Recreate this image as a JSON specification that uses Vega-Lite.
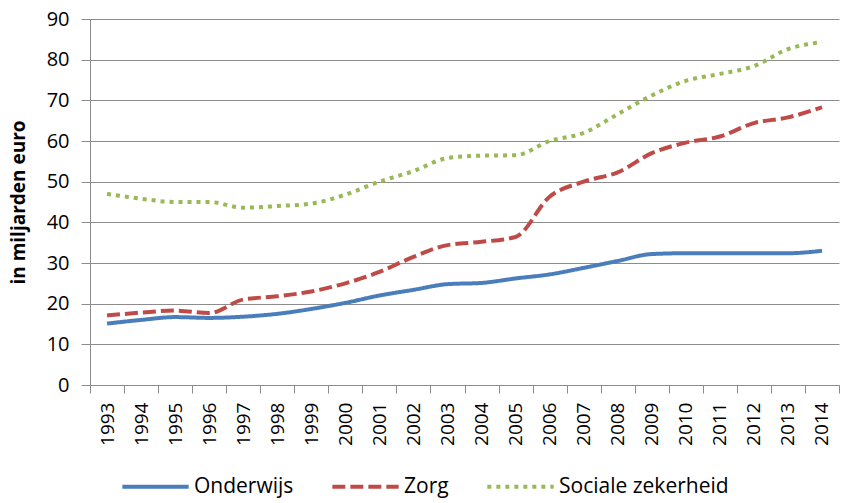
{
  "$schema": "https://vega.github.io/schema/vega-lite/v6.json",
  "autosize": {"type": "none"},
  "width": 749,
  "height": 366,
  "padding": {"left": 90, "top": 19, "right": 5, "bottom": 118},
  "background": "white",
  "config": {
    "view": {"stroke": null},
    "font": "Open Sans"
  },
  "data": {
    "values": [
      {"year": "1993", "series": "Onderwijs", "value": 15.1},
      {"year": "1994", "series": "Onderwijs", "value": 16.0},
      {"year": "1995", "series": "Onderwijs", "value": 16.7},
      {"year": "1996", "series": "Onderwijs", "value": 16.5},
      {"year": "1997", "series": "Onderwijs", "value": 16.8},
      {"year": "1998", "series": "Onderwijs", "value": 17.5},
      {"year": "1999", "series": "Onderwijs", "value": 18.7},
      {"year": "2000", "series": "Onderwijs", "value": 20.2},
      {"year": "2001", "series": "Onderwijs", "value": 22.0},
      {"year": "2002", "series": "Onderwijs", "value": 23.4},
      {"year": "2003", "series": "Onderwijs", "value": 24.8},
      {"year": "2004", "series": "Onderwijs", "value": 25.1},
      {"year": "2005", "series": "Onderwijs", "value": 26.2},
      {"year": "2006", "series": "Onderwijs", "value": 27.2},
      {"year": "2007", "series": "Onderwijs", "value": 28.8},
      {"year": "2008", "series": "Onderwijs", "value": 30.5},
      {"year": "2009", "series": "Onderwijs", "value": 32.2},
      {"year": "2010", "series": "Onderwijs", "value": 32.4},
      {"year": "2011", "series": "Onderwijs", "value": 32.4},
      {"year": "2012", "series": "Onderwijs", "value": 32.4},
      {"year": "2013", "series": "Onderwijs", "value": 32.4},
      {"year": "2014", "series": "Onderwijs", "value": 33.0},
      {"year": "1993", "series": "Zorg", "value": 17.1},
      {"year": "1994", "series": "Zorg", "value": 17.8},
      {"year": "1995", "series": "Zorg", "value": 18.3},
      {"year": "1996", "series": "Zorg", "value": 17.7},
      {"year": "1997", "series": "Zorg", "value": 21.0},
      {"year": "1998", "series": "Zorg", "value": 21.8},
      {"year": "1999", "series": "Zorg", "value": 23.0},
      {"year": "2000", "series": "Zorg", "value": 25.0},
      {"year": "2001", "series": "Zorg", "value": 27.8},
      {"year": "2002", "series": "Zorg", "value": 31.5},
      {"year": "2003", "series": "Zorg", "value": 34.4},
      {"year": "2004", "series": "Zorg", "value": 35.2},
      {"year": "2005", "series": "Zorg", "value": 36.4},
      {"year": "2006", "series": "Zorg", "value": 46.3},
      {"year": "2007", "series": "Zorg", "value": 50.0},
      {"year": "2008", "series": "Zorg", "value": 52.3},
      {"year": "2009", "series": "Zorg", "value": 57.0},
      {"year": "2010", "series": "Zorg", "value": 59.6},
      {"year": "2011", "series": "Zorg", "value": 61.1},
      {"year": "2012", "series": "Zorg", "value": 64.4},
      {"year": "2013", "series": "Zorg", "value": 65.8},
      {"year": "2014", "series": "Zorg", "value": 68.3},
      {"year": "1993", "series": "Sociale zekerheid", "value": 47.0},
      {"year": "1994", "series": "Sociale zekerheid", "value": 45.8},
      {"year": "1995", "series": "Sociale zekerheid", "value": 45.0},
      {"year": "1996", "series": "Sociale zekerheid", "value": 45.0},
      {"year": "1997", "series": "Sociale zekerheid", "value": 43.6},
      {"year": "1998", "series": "Sociale zekerheid", "value": 44.0},
      {"year": "1999", "series": "Sociale zekerheid", "value": 44.6},
      {"year": "2000", "series": "Sociale zekerheid", "value": 46.8},
      {"year": "2001", "series": "Sociale zekerheid", "value": 50.0},
      {"year": "2002", "series": "Sociale zekerheid", "value": 52.6},
      {"year": "2003", "series": "Sociale zekerheid", "value": 55.8},
      {"year": "2004", "series": "Sociale zekerheid", "value": 56.4},
      {"year": "2005", "series": "Sociale zekerheid", "value": 56.5},
      {"year": "2006", "series": "Sociale zekerheid", "value": 60.0},
      {"year": "2007", "series": "Sociale zekerheid", "value": 62.0},
      {"year": "2008", "series": "Sociale zekerheid", "value": 66.6},
      {"year": "2009", "series": "Sociale zekerheid", "value": 71.2},
      {"year": "2010", "series": "Sociale zekerheid", "value": 74.8},
      {"year": "2011", "series": "Sociale zekerheid", "value": 76.5},
      {"year": "2012", "series": "Sociale zekerheid", "value": 78.4},
      {"year": "2013", "series": "Sociale zekerheid", "value": 82.6},
      {"year": "2014", "series": "Sociale zekerheid", "value": 84.3}
    ]
  },
  "mark": {"type": "line", "strokeWidth": 4, "interpolate": "monotone", "strokeCap": "butt"},
  "encoding": {
    "x": {
      "field": "year",
      "type": "ordinal",
      "bandPosition": 0.5,
      "scale": {"type": "band", "paddingInner": 0, "paddingOuter": 0},
      "axis": {
        "title": null,
        "tickBand": "extent",
        "labelAngle": -90,
        "labelFont": "Open Sans",
        "labelFontSize": 19,
        "labelColor": "#000000",
        "labelPadding": 9,
        "tickSize": 8,
        "tickColor": "#8c8c8c",
        "domainColor": "#8c8c8c",
        "grid": false
      }
    },
    "y": {
      "field": "value",
      "type": "quantitative",
      "scale": {"domain": [0, 90], "nice": false},
      "axis": {
        "title": "in miljarden euro",
        "titleFont": "Open Sans",
        "titleFontSize": 19,
        "titleFontWeight": "bold",
        "titleColor": "#000000",
        "titlePadding": 18,
        "values": [0, 10, 20, 30, 40, 50, 60, 70, 80, 90],
        "labelFont": "Open Sans",
        "labelFontSize": 20,
        "labelColor": "#000000",
        "labelPadding": 12,
        "tickSize": 9,
        "tickColor": "#8c8c8c",
        "domainColor": "#8c8c8c",
        "gridColor": "#8c8c8c",
        "gridWidth": 1,
        "gridOpacity": 1
      }
    },
    "color": {
      "field": "series",
      "type": "nominal",
      "sort": ["Onderwijs", "Zorg", "Sociale zekerheid"],
      "scale": {
        "domain": ["Onderwijs", "Zorg", "Sociale zekerheid"],
        "range": ["#4A7EBB", "#BE4B48", "#98B954"]
      },
      "legend": {
        "title": null,
        "orient": "none",
        "legendX": 30,
        "legendY": 432,
        "direction": "horizontal",
        "symbolType": "stroke",
        "symbolSize": 4400,
        "symbolStrokeWidth": 4,
        "labelFont": "Open Sans",
        "labelFontSize": 21,
        "labelColor": "#000000",
        "labelOffset": 3,
        "columnPadding": 30,
        "labelLimit": 300
      }
    },
    "strokeDash": {
      "field": "series",
      "type": "nominal",
      "sort": ["Onderwijs", "Zorg", "Sociale zekerheid"],
      "scale": {
        "domain": ["Onderwijs", "Zorg", "Sociale zekerheid"],
        "range": [[1, 0], [13, 5], [4, 5]]
      },
      "legend": null
    }
  }
}
